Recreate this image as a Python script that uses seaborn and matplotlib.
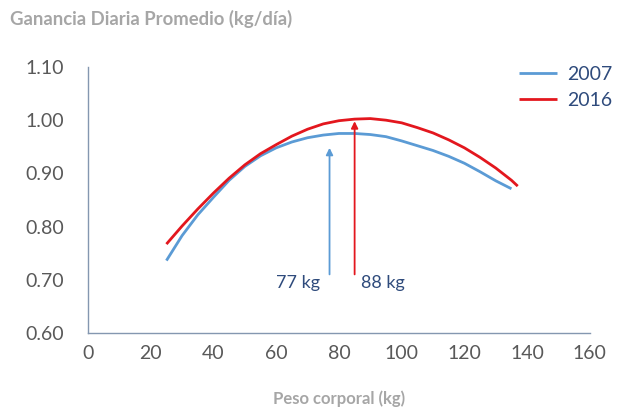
import pandas as pd
import matplotlib.pyplot as plt
import seaborn as sns

sns.set_theme(style="white")
plt.rcParams['font.family'] = ['Lato', 'DejaVu Sans']

# Data
peso_2007 = [25, 30, 35, 40, 45, 50, 55, 60, 65, 70, 75, 80, 85, 90, 95, 100,
             105, 110, 115, 120, 125, 130, 135]
gdp_2007 = [0.736, 0.783, 0.822, 0.855, 0.887, 0.913, 0.933, 0.948, 0.959, 0.967,
            0.972, 0.975, 0.975, 0.973, 0.969, 0.961, 0.952, 0.943, 0.932, 0.919,
            0.903, 0.886, 0.871]
peso_2016 = [25, 30, 35, 40, 45, 50, 55, 60, 65, 70, 75, 80, 85, 90, 95, 100,
             105, 110, 115, 120, 125, 130, 135, 137]
gdp_2016 = [0.767, 0.801, 0.833, 0.863, 0.891, 0.916, 0.937, 0.954, 0.970, 0.983,
            0.993, 0.999, 1.002, 1.003, 1.000, 0.995, 0.986, 0.976, 0.963, 0.948,
            0.930, 0.910, 0.887, 0.876]
arrow_x = {'2007': 77, '2016': 85}
arrow_top = {'2007': 0.948, '2016': 0.998}
labels = {'2007': '77 kg', '2016': '88 kg'}
x_ticks = [0, 20, 40, 60, 80, 100, 120, 140, 160]
y_ticks = [0.60, 0.70, 0.80, 0.90, 1.00, 1.10]

df = pd.concat([
    pd.DataFrame({'Peso': peso_2007, 'GDP': gdp_2007, 'Año': '2007'}),
    pd.DataFrame({'Peso': peso_2016, 'GDP': gdp_2016, 'Año': '2016'}),
])

colors = {'2007': '#5B9BD5', '2016': '#E3171E'}
text_col = '#2F4B7C'
gray = '#A6A6A6'
axis_col = '#8497B0'

fig = plt.figure(figsize=(6.25, 4.11), dpi=100)
ax = fig.add_axes([0.1408, 0.19, 0.803, 0.647])

sns.lineplot(data=df, x='Peso', y='GDP', hue='Año', palette=colors,
             estimator=None, sort=False, linewidth=2, ax=ax,
             solid_joinstyle='round', solid_capstyle='butt')

# Arrows marking the peak
for yr in ['2007', '2016']:
    ax.annotate('', xy=(arrow_x[yr], arrow_top[yr]), xytext=(arrow_x[yr], 0.71),
                arrowprops=dict(arrowstyle='-|>', color=colors[yr], lw=1.3,
                                mutation_scale=10, shrinkA=0, shrinkB=0))
ax.text(74, 0.693, labels['2007'], ha='right', va='center', fontsize=13, color=text_col)
ax.text(87, 0.693, labels['2016'], ha='left', va='center', fontsize=13, color=text_col)

ax.set_xlim(0, 160)
ax.set_ylim(0.60, 1.10)
ax.set_xticks(x_ticks)
ax.set_yticks(y_ticks)
ax.set_yticklabels([f'{v:.2f}' for v in y_ticks])
ax.tick_params(axis='both', length=0, labelsize=14, colors='#595959')
ax.tick_params(axis='y', pad=17)
ax.tick_params(axis='x', pad=9)

sns.despine(ax=ax)
for s in ['left', 'bottom']:
    ax.spines[s].set_color(axis_col)
    ax.spines[s].set_linewidth(1)

ax.set_xlabel('Peso corporal (kg)', fontsize=12, fontweight='bold', color=gray, labelpad=20)
ax.set_ylabel('')
fig.text(0.016, 0.955, 'Ganancia Diaria Promedio (kg/día)', fontsize=13.3,
         fontweight='bold', color=gray, ha='left', va='center')

leg = ax.legend(loc='upper left', bbox_to_anchor=(0.823, 1.07), frameon=False,
                fontsize=14, handlelength=2.0, handletextpad=0.5,
                labelspacing=0.45, title=None)
for t in leg.get_texts():
    t.set_color(text_col)

plt.savefig('out.png', dpi=100)
